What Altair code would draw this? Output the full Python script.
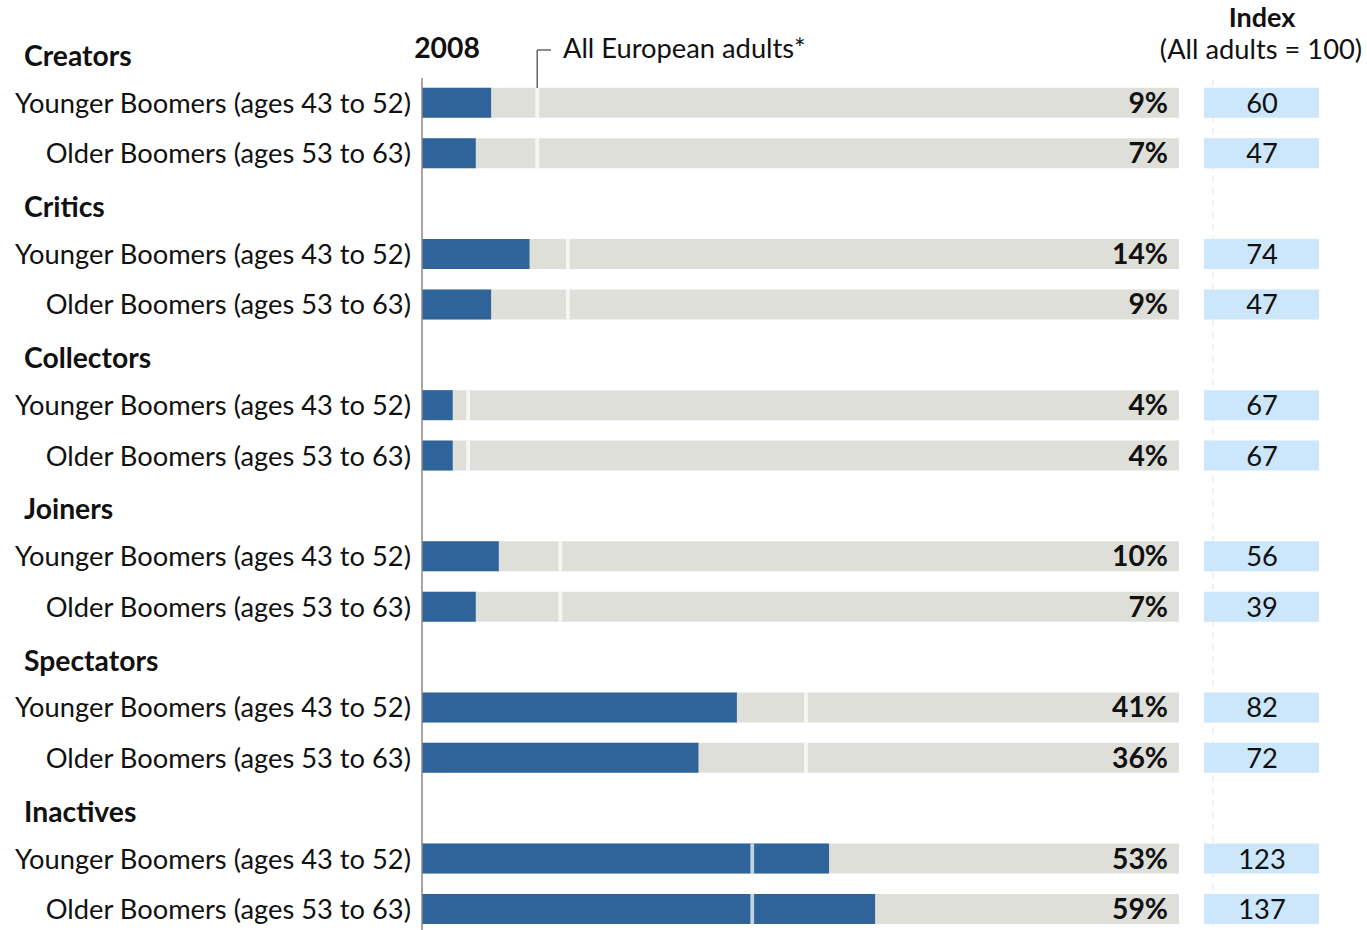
import altair as alt
import pandas as pd

groups = ["Creators", "Critics", "Collectors", "Joiners", "Spectators", "Inactives"]
row_labels = ["Younger Boomers (ages 43 to 52)", "Older Boomers (ages 53 to 63)"]
younger_pct = [9, 14, 4, 10, 41, 53]
older_pct = [7, 9, 4, 7, 36, 59]
all_adults_pct = [15, 19, 6, 18, 50, 43]
younger_index = [60, 74, 67, 56, 82, 123]
older_index = [47, 47, 67, 39, 72, 137]

FONT = "Lato"
FS = 27.3
FSB = 28.3
BLUE = "#2e6499"
GREY = "#dfdfda"
IDX = "#cce6fb"

rows = []
for g, name in enumerate(groups):
    for r, (lab, v, ix) in enumerate([(row_labels[0], younger_pct[g], younger_index[g]),
                                      (row_labels[1], older_pct[g], older_index[g])]):
        rows.append(dict(group=name, label=lab, value=v, avg=all_adults_pct[g],
                         index=ix, pct=f"{v}%", pos=3 * g + 0.93 + r))
df = pd.DataFrame(rows)
hdr = pd.DataFrame([dict(group=n, pos=3 * g) for g, n in enumerate(groups)])

xs = alt.Scale(domain=[0, 100], range=[422, 1190], nice=False, zero=False, padding=0)
ys = alt.Scale(domain=[0, 16.93], range=[56, 909], nice=False, zero=False, padding=0)

X = lambda f: alt.X(f, type="quantitative", scale=xs, axis=None)
Y = alt.Y("pos:Q", scale=ys, axis=None)

base = alt.Chart(df)

track = base.mark_bar(size=30, orient="horizontal", color=GREY).encode(
    x=alt.value(422), x2=alt.value(1179), y=Y)
bars = base.mark_bar(size=30, orient="horizontal", color=BLUE).encode(
    x=alt.X("zero:Q", scale=xs, axis=None), x2="value:Q", y=Y
).transform_calculate(zero="0")
marker = base.mark_tick(orient="vertical", size=30, thickness=3.8, color="white").encode(
    x=X("avg"), y=Y)
pct = base.mark_text(align="right", baseline="middle", font=FONT, fontSize=FSB, dy=2,
                     fontWeight="bold", color="#111").encode(
    x=alt.value(1168), y=Y, text="pct:N")
labels = base.mark_text(align="right", baseline="middle", font=FONT, fontSize=FS, dy=2,
                        color="#111").encode(
    x=alt.value(411), y=Y, text="label:N")
idxbox = base.mark_bar(size=30, orient="horizontal", color=IDX).encode(
    x=alt.value(1204), x2=alt.value(1319), y=Y)
idxline = base.mark_rule(color="#dde6ee", strokeDash=[6, 6], strokeWidth=1).encode(
    x=alt.value(1213), y=alt.value(80), y2=alt.value(930)).transform_filter("datum.pos < 1")
idxtext = base.mark_text(align="center", baseline="middle", font=FONT, fontSize=FS, dy=2,
                         color="#111").encode(
    x=alt.value(1262), y=Y, text="index:Q")
headers = alt.Chart(hdr).mark_text(align="left", baseline="middle", font=FONT, fontSize=FSB,
                                   dy=2, fontWeight="bold", color="#111").encode(
    x=alt.value(24), y=Y, text="group:N")
axisline = base.mark_rule(color="#888", strokeWidth=1.5).encode(
    x=alt.value(422), y=alt.value(78), y2=alt.value(930)).transform_filter("datum.pos < 1")

first = base.transform_filter("datum.pos < 1")
ann_v = first.mark_rule(color="#666", strokeWidth=1.5).encode(
    x=X("avg"), y=alt.value(50), y2=alt.value(88))
ann_h = first.mark_rule(color="#666", strokeWidth=1.5).encode(
    x=X("avg"), x2=alt.value(551), y=alt.value(50))
ann_t = first.mark_text(align="left", baseline="middle", font=FONT, fontSize=FS,
                        color="#111", text="All European adults*").encode(
    x=alt.value(563), y=alt.value(50))
t2008 = first.mark_text(align="center", baseline="middle", font=FONT, fontSize=FSB,
                        fontWeight="bold", color="#111", text="2008").encode(
    x=alt.value(447), y=alt.value(50))
tidx = first.mark_text(align="center", baseline="middle", font=FONT, fontSize=27,
                       fontWeight="bold", color="#111", text="Index").encode(
    x=alt.value(1262), y=alt.value(19))
tidx2 = first.mark_text(align="center", baseline="middle", font=FONT, fontSize=FS,
                        color="#111", text="(All adults = 100)").encode(
    x=alt.value(1261), y=alt.value(51))

chart = alt.layer(
    track, bars, marker, pct, labels, idxline, idxbox, idxtext, headers, axisline,
    ann_v, ann_h, ann_t, t2008, tidx, tidx2
).properties(
    width=1367, height=930, padding=0, autosize=alt.AutoSizeParams(type="none"),
    background="white"
).configure_view(stroke=None)

chart.save("out.html", embed_options={"renderer": "svg", "actions": False})
